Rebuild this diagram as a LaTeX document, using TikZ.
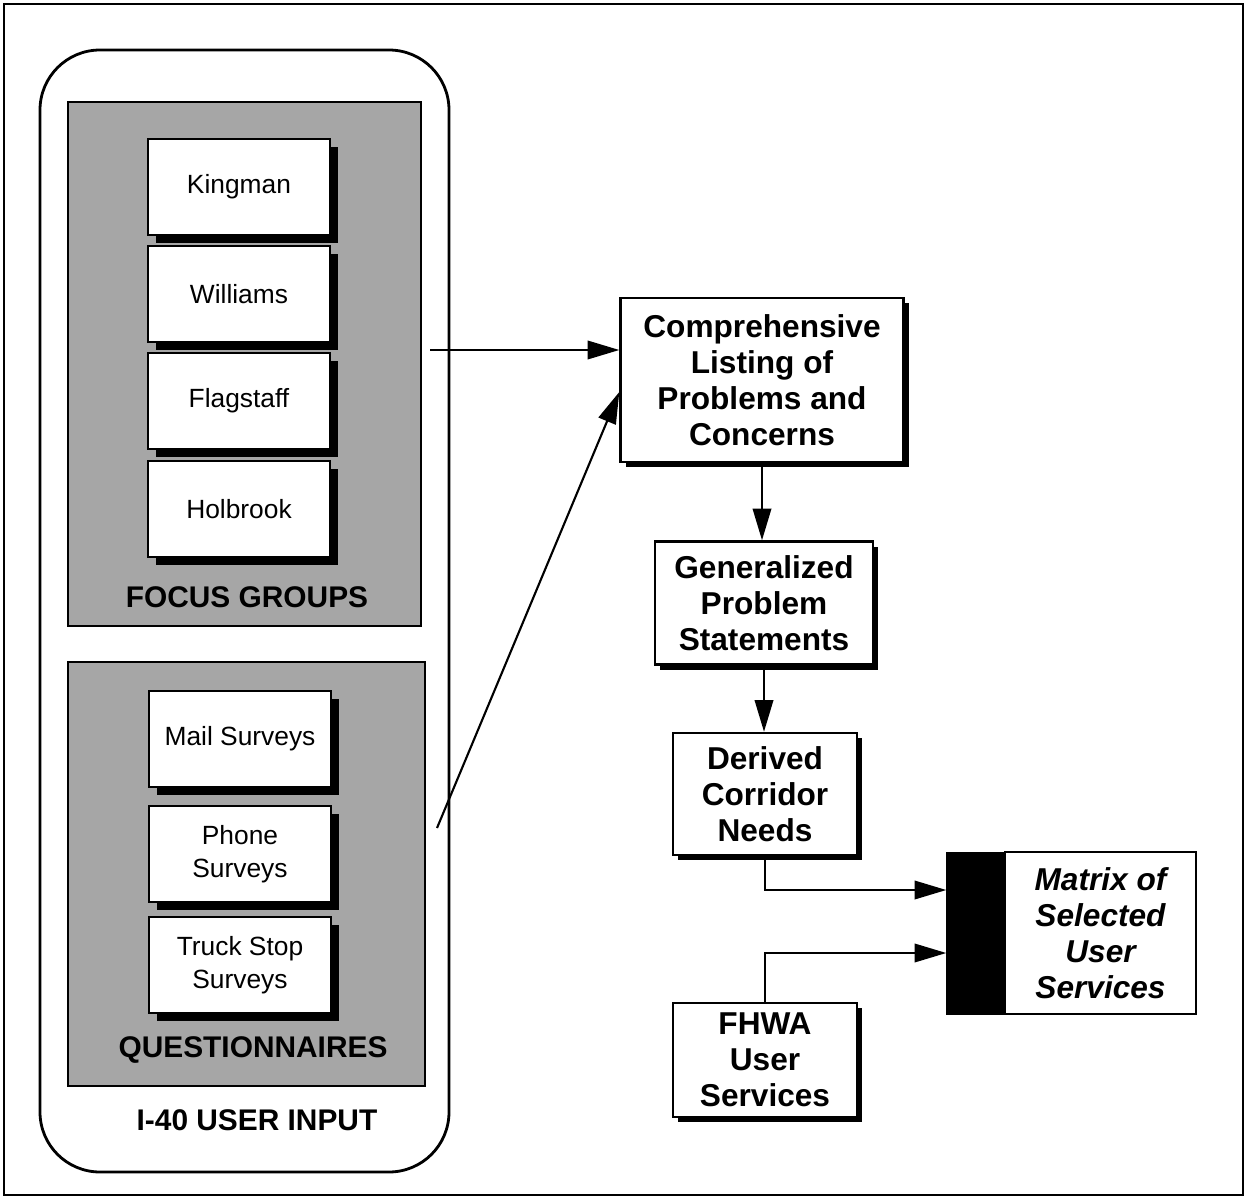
\documentclass[tikz,border=0pt]{standalone}
\usepackage{fontspec}
\setmainfont{Liberation Sans}
\usetikzlibrary{arrows.meta,positioning,calc,shadows}

\tikzset{
  srcbox/.style={draw, line width=1.4pt, fill=white, align=center,
    minimum width=3.64cm, minimum height=1.92cm,
    font=\fontsize{15}{18.7}\selectfont,
    drop shadow={shadow xshift=4.5pt, shadow yshift=-4.5pt, fill=black, opacity=1}},
  stepbox/.style={draw, line width=1.4pt, fill=white, align=center, inner sep=0pt,
    font=\fontsize{18}{20.5}\selectfont\bfseries,
    drop shadow={shadow xshift=3pt, shadow yshift=-3pt, fill=black, opacity=1}},
  grouplabel/.style={font=\fontsize{17}{20}\selectfont\bfseries},
  texture/.style={draw, line width=1.5pt, fill=black!35},
  flow/.style={line width=1.2pt, -{Triangle[length=18pt,width=10.5pt]}}
}

\begin{document}
\begin{tikzpicture}[x=0.02cm, y=-0.02cm]
	\useasboundingbox (0,0) rectangle (1247,1199);
	\draw[line width=1pt] (4,4) rectangle (1243,1195);
	
	% user input
	\draw[line width=1.6pt, rounded corners=1.2cm] (40,50) rectangle (449,1172);
	\draw[texture] (68,102) rectangle (421,626);
	\draw[texture] (68,662) rectangle (425,1086);
	
	\node[srcbox] (kingman) at (239,187) {Kingman};
	\node[srcbox] (williams) at (239,294) {Williams};
	\node[srcbox] (flagstaff) at (239,401) {Flagstaff};
	\node[srcbox] (holbrook) at (239,509) {Holbrook};
	\node[grouplabel] (focus) at (247,597) {FOCUS GROUPS};
	
	\node[srcbox] (mail) at (240,739) {Mail Surveys};
	\node[srcbox] (phone) at (240,854) {Phone\\Surveys};
	\node[srcbox] (truck) at (240,965) {Truck Stop\\Surveys};
	\node[grouplabel] (quest) at (253,1050) {QUESTIONNAIRES};
	
	\node[grouplabel] (userinput) at (257,1120) {I-40 USER INPUT};
	
	% process
	\node[stepbox, minimum width=5.66cm, minimum height=3.28cm] (listing) at (762,380)
		{Comprehensive\\Listing of\\Problems and\\Concerns};
	\node[stepbox, minimum width=4.36cm, minimum height=2.46cm] (general) at (764,603)
		{Generalized\\Problem\\Statements};
	\node[stepbox, minimum width=3.68cm, minimum height=2.44cm] (derived) at (765,794)
		{Derived\\Corridor\\Needs};
	\node[stepbox, minimum width=3.68cm, minimum height=2.28cm] (fhwa) at (765,1060)
		{FHWA\\User\\Services};
	\node[draw, line width=1.2pt, fill=white, align=center, inner sep=0pt,
		minimum width=3.82cm, minimum height=3.24cm,
		font=\fontsize{18}{20.5}\selectfont\bfseries\itshape] (selected) at (1100.5,933)
		{Matrix of\\Selected\\User\\Services};
	\node[draw, fill=black, inner sep=0pt, minimum width=1.14cm, minimum height=3.24cm,
		anchor=east] (matbar) at (selected.west) {};
	
	\coordinate (fgout) at (430,350);
	\coordinate (qout) at (437,828);
	\draw[flow] (fgout) -- (fgout -| listing.west);
	\draw[flow] (qout) -- ($(listing.west)+(0,12)$);
	\draw[flow] (listing.south) -- (listing.south |- general.north);
	\draw[flow] (general.south) -- (general.south |- derived.north);
	\draw[flow] (derived.south) |- ([yshift=0.86cm]matbar.west);
	\draw[flow] (fhwa.north) |- ([yshift=-0.4cm]matbar.west);
	
\end{tikzpicture}
\end{document}
